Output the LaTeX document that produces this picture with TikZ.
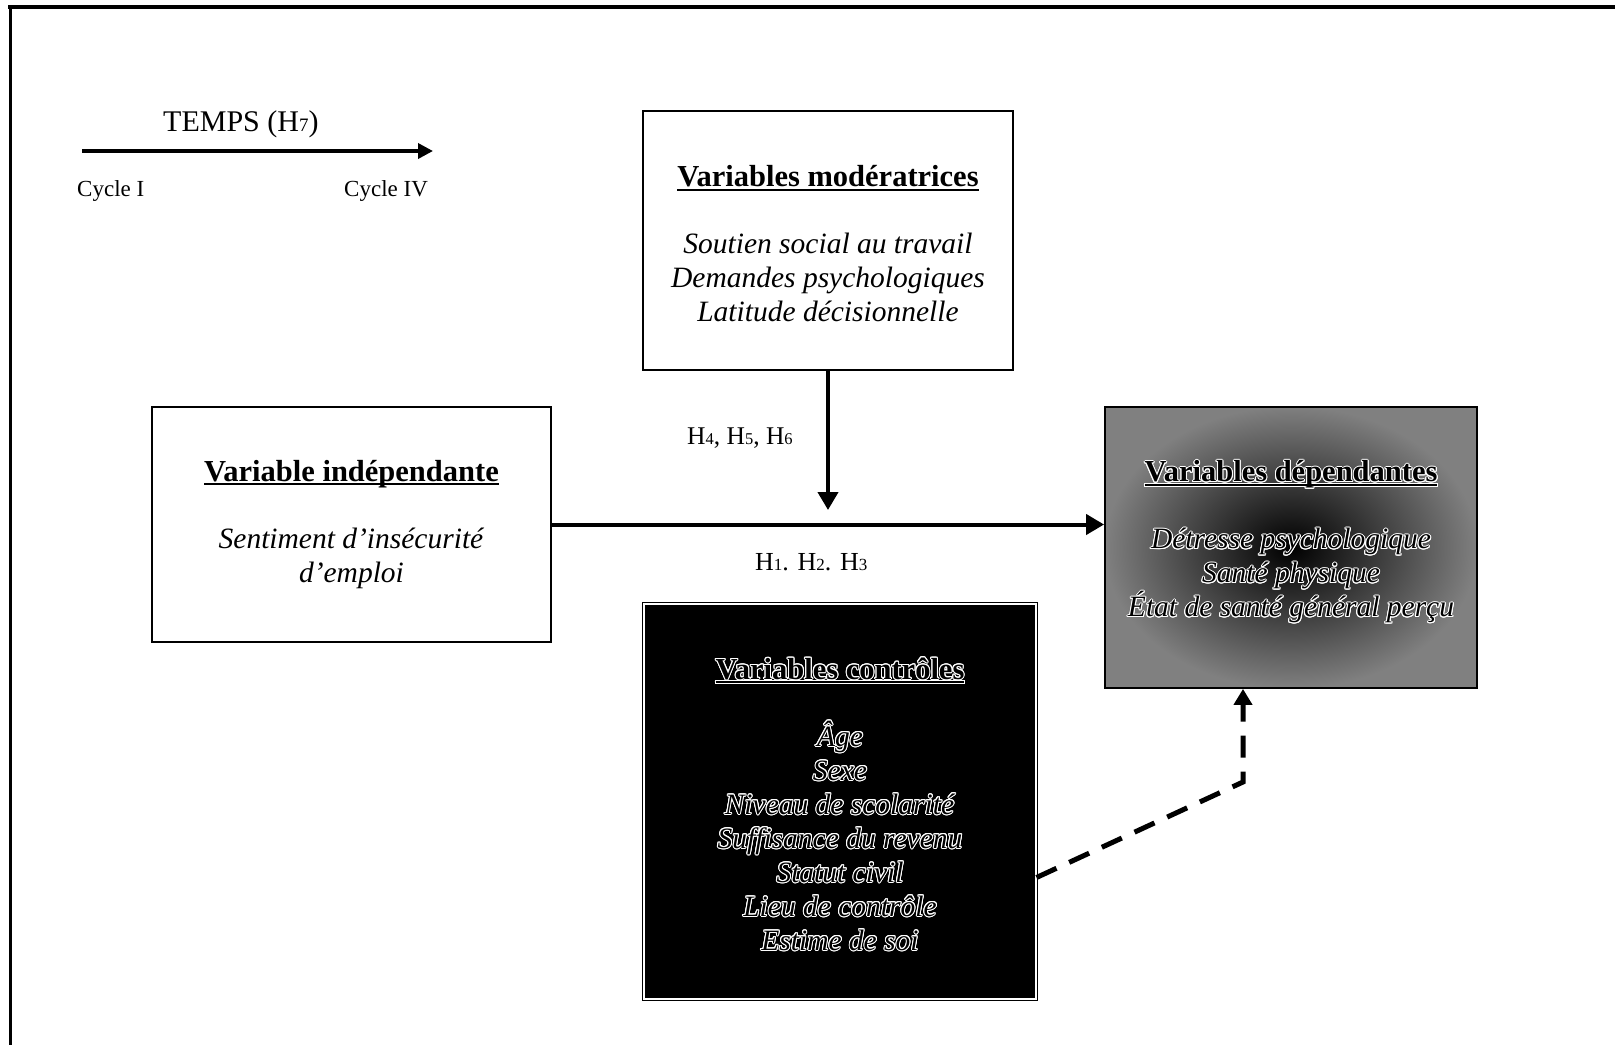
\documentclass[tikz,border=0pt]{standalone}
\usepackage{fontspec}
\setmainfont{Liberation Serif}
\usepackage{contour}
\contourlength{1pt}
\usetikzlibrary{arrows.meta,calc}
\newcommand\hdul[1]{\setbox0\hbox{#1}\rlap{\rule[-4pt]{\wd0}{2pt}}\box0}
\newcommand\oltext[1]{\contour{white}{#1}}
\newcommand\hdfont{\fontsize{30.5}{34}\selectfont\bfseries}
\begin{document}
\begin{tikzpicture}[x=1pt,y=-1pt,
  box/.style={draw=black,line width=1.8pt,inner sep=0pt},
  txt/.style={align=center,inner sep=0pt,font=\fontsize{29.5}{34}\selectfont},
  lbl/.style={anchor=base west,inner sep=0pt},
  mainarrow/.style={line width=4pt,-{Triangle[length=18pt,width=20pt]}},
  dasharrow/.style={line width=5pt,dash pattern=on 22pt off 14pt,
    -{Triangle[length=16pt,width=18pt]}}]
\useasboundingbox (0,0) rectangle (1615,1045);
\fill[white] (0,0) rectangle (1615,1045);
% frame lines
\draw[line width=4pt] (8,7) -- (1615,7);
\draw[line width=3pt] (10,7) -- (10,1045);

% time arrow
\node[lbl,font=\fontsize{30}{34}\selectfont] (temps) at (163,131) {TEMPS (H{\fontsize{19}{19}\selectfont 7})};
\coordinate (t0) at (82,151);
\coordinate (t1) at (433,151);
\draw[line width=3.5pt,-{Triangle[length=15pt,width=15pt]}] (t0) -- (t1);
\node[lbl,font=\fontsize{23}{26}\selectfont] (c1) at (77,196) {Cycle I};
\node[lbl,font=\fontsize{23}{26}\selectfont] (c4) at (344,196) {Cycle IV};

% boxes
\node[box,minimum width=370pt,minimum height=259pt] (mod) at (828,240.5) {};
\node[box,minimum width=399pt,minimum height=235pt] (ind) at (351.5,524.5) {};
\node[box,minimum width=372pt,minimum height=281pt,
      shade,inner color=black,outer color=black!50] (dep) at (1291,547.5) {};
\node[box,line width=1pt,double=white,double distance=2pt,fill=black,
      minimum width=392pt,minimum height=395pt] (ctrl) at (840,801.5) {};

% box texts
\node[txt] (modtxt) at ($(mod.center)+(0,3.5)$)
  {\hdul{\hdfont Variables modératrices}\\[33pt]
   \textit{Soutien social au travail}\\
   \textit{Demandes psychologiques}\\
   \textit{Latitude décisionnelle}};
\node[txt] (indtxt) at (ind.center)
  {\hdul{\hdfont Variable indépendante}\\[33pt]
   \textit{Sentiment d’insécurité}\\
   \textit{d’emploi}};
\node[txt] (deptxt) at ($(dep.center)+(0,-5)$)
  {\oltext{\hdul{\hdfont Variables dépendantes}}\\[33pt]
   \oltext{\textit{Détresse psychologique}}\\
   \oltext{\textit{Santé physique}}\\
   \oltext{\textit{État de santé général perçu}}};
\node[txt] (ctrltxt) at ($(ctrl.center)+(0,3)$)
  {\oltext{\hdul{\hdfont Variables contrôles}}\\[33pt]
   \oltext{\textit{Âge}}\\
   \oltext{\textit{Sexe}}\\
   \oltext{\textit{Niveau de scolarité}}\\
   \oltext{\textit{Suffisance du revenu}}\\
   \oltext{\textit{Statut civil}}\\
   \oltext{\textit{Lieu de contrôle}}\\
   \oltext{\textit{Estime de soi}}};

% connectors
\coordinate (vtip) at (828,510);
\draw[mainarrow] (mod.south) -- (vtip);
\draw[mainarrow] (ind.east) -- (ind.east -| dep.west);
\coordinate (dbend) at (1243,782);
\draw[dasharrow] ($(ctrl.east)+(0,76)$) -- (dbend) -- (dbend |- dep.south);

% labels
\node[lbl,font=\fontsize{25.5}{30}\selectfont] (h456) at (687,444)
  {H{\fontsize{16.5}{16}\selectfont 4}, H{\fontsize{16.5}{16}\selectfont 5}, H{\fontsize{16.5}{16}\selectfont 6}};
\node[lbl,font=\fontsize{26}{30}\selectfont] (h123) at (755,570)
  {H{\fontsize{17}{17}\selectfont 1}. H{\fontsize{17}{17}\selectfont 2}. H{\fontsize{17}{17}\selectfont 3}};
\end{tikzpicture}
\end{document}
